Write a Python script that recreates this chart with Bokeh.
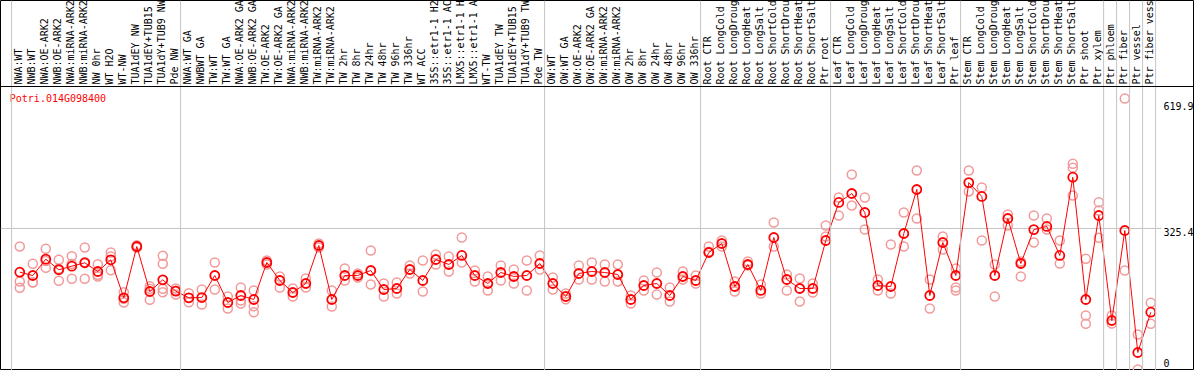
import math
from bokeh.plotting import figure
from bokeh.models import Range1d, Span
from bokeh.core.properties import value
from bokeh.embed import file_html
from bokeh.resources import INLINE

gene = "Potri.014G098400"

categories = [
    "NWA:WT", "NWB:WT", "NWA:OE-ARK2", "NWB:OE-ARK2", "NWA:miRNA-ARK2", "NWB:miRNA-ARK2",
    "NW 0hr", "WT H2O", "WT-NW", "TUA1dEY NW", "TUA1dEY+TUB15 NW", "TUA1dY+TUB9 NW", "Pde NW",
    "NWA:WT GA", "NWBWT GA", "TW:WT", "TW:WT GA", "NWA:OE-ARK2 GA", "NWB:OE-ARK2 GA",
    "TW:OE-ARK2", "TW:OE-ARK2 GA", "NWA:miRNA-ARK2 GA", "NWB:miRNA-ARK2 GA", "TW:miRNA-ARK2",
    "TW:miRNA-ARK2 GA", "TW 2hr", "TW 8hr", "TW 24hr", "TW 48hr", "TW 96hr", "TW 336hr",
    "WT ACC", "35S::etr1-1 H2O", "35S::etr1-1 ACC", "LMX5::etr1-1 H2O", "LMX5::etr1-1 ACC",
    "WT-TW", "TUA1dEY TW", "TUA1dEY+TUB15 TW", "TUA1dY+TUB9 TW", "Pde TW",
    "OW:WT", "OW:WT GA", "OW:OE-ARK2", "OW:OE-ARK2 GA", "OW:miRNA-ARK2", "OW:miRNA-ARK2 GA",
    "OW 2hr", "OW 8hr", "OW 24hr", "OW 48hr", "OW 96hr", "OW 336hr",
    "Root CTR", "Root LongCold", "Root LongDrought", "Root LongHeat", "Root LongSalt",
    "Root ShortCold", "Root ShortDrought", "Root ShortHeat", "Root ShortSalt", "Ptr root",
    "Leaf CTR", "Leaf LongCold", "Leaf LongDrought", "Leaf LongHeat", "Leaf LongSalt",
    "Leaf ShortCold", "Leaf ShortDrought", "Leaf ShortHeat", "Leaf ShortSalt", "Ptr leaf",
    "Stem CTR", "Stem LongCold", "Stem LongDrought", "Stem LongHeat", "Stem LongSalt",
    "Stem ShortCold", "Stem ShortDrought", "Stem ShortHeat", "Stem ShortSalt",
    "Ptr shoot", "Ptr xylem", "Ptr phloem", "Ptr fiber", "Ptr vessel", "Ptr fiber vessel",
]

means = [
    226.3, 218.8, 255.8, 231.8, 239.9, 247.6, 227.9, 254.4, 168.3, 284.5, 182.6, 209.1, 183.3,
    168.3, 168.9, 218.8, 157.7, 173.5, 164.5, 248.3, 207.5, 180.3, 200.7, 286.8, 164.5,
    218.8, 218.8, 230.2, 187.1, 189.4, 232.4, 207.5, 255.1, 243.8, 264.2, 218.8,
    200.7, 225.6, 216.6, 218.8, 246.0,
    200.7, 171.3, 223.4, 227.9, 225.6, 221.1, 164.5, 196.2, 200.7, 173.5, 216.6, 207.5,
    270.9, 291.3, 193.9, 243.8, 184.9, 304.9, 209.8, 189.4, 189.4, 298.1,
    384.3, 404.6, 361.6, 196.2, 193.9, 314.0, 413.7, 173.5, 293.6, 218.8,
    429.3, 397.9, 218.8, 348.0, 246.0, 322.8, 329.9, 264.2, 441.5,
    164.5, 354.8, 116.9, 320.8, 44.4, 135.7,
]

replicates = [
    [284.5, 205.3, 191.0], [245.4, 203.7, 203.0], [279.3, 236.3, 251.8], [254.4, 206.8, 234.0],
    [262.6, 211.4, 245.0], [282.3, 211.4, 249.0], [244.4, 220.4, 216.6], [271.0, 261.9, 230.9],
    [181.0, 157.7, 166.0], [283.0, 287.5, 282.0], [194.6, 163.8, 189.0],
    [263.5, 245.4, 188.7, 181.0], [189.4, 175.8, 184.0],
    [178.7, 158.4, 168.0], [187.1, 153.1], [248.3, 187.1], [171.3, 144.1],
    [191.7, 155.4, 162.2], [184.9, 135.3, 148.9], [252.8, 243.8], [216.6, 191.7],
    [189.4, 171.3], [212.0, 191.7], [291.3, 282.3], [184.9, 148.6],
    [234.7, 207.5], [223.4, 214.3], [275.5, 198.5], [200.7, 171.3], [203.0, 178.1],
    [241.5, 223.4], [252.8, 182.6], [266.4, 243.8], [261.9, 227.9], [304.9, 248.3],
    [230.2, 205.3], [216.6, 184.9], [241.5, 207.5], [232.4, 200.7], [252.8, 184.9],
    [264.2, 232.4],
    [214.3, 187.1], [178.1, 165.0], [241.5, 209.8], [248.3, 209.8], [243.8, 205.3],
    [243.8, 205.3], [173.5, 155.4], [207.5, 184.9], [225.6, 175.8], [191.7, 159.9],
    [227.9, 209.8], [218.8, 200.7],
    [284.5, 272.7], [298.1, 284.5], [205.3, 182.6], [250.6, 241.5], [198.5, 178.1],
    [338.9, 284.5], [221.1, 184.9], [212.0, 159.9], [200.7, 180.3], [307.2, 332.1],
    [395.6, 354.8], [447.6, 377.4], [395.6, 323.1], [209.8, 184.9], [289.1, 178.1],
    [361.6, 284.5], [456.7, 348.0], [209.8, 144.1], [307.2, 277.7], [234.7, 191.7, 184.9],
    [456.7, 409.2], [418.2, 298.1], [243.8, 171.3], [357.1, 332.1], [250.6, 216.6],
    [354.8, 293.6], [348.0, 322.8], [298.1, 246.0], [471.9, 462.8, 400.0],
    [256.7, 128.2, 109.4], [385.0, 366.1, 304.2], [128.2, 110.1], [619.9, 230.2],
    [85.2, 5.9], [157.0, 109.4],
]

y_ticks = [0, 325.4, 619.9]
group_ends = [-1, 12, 40, 52, 62, 72, 83, 84, 85, 86, 87]

# ---- layout (pixels) ----
W, H = 1194, 370
UNIT = 13.0          # px per category
X0 = -19.3 / UNIT    # x value at left frame edge
PXV = 0.4414         # px per expression unit
Y0 = 3.6             # value at bottom frame edge
x_end = X0 + W / UNIT
y_end = Y0 + H / PXV
HEADER = 647.0       # value where header band starts

FONT = value("DejaVu Sans Mono")

p = figure(width=W, height=H, x_range=Range1d(X0, x_end), y_range=Range1d(Y0, y_end),
           output_backend="svg", toolbar_location=None, min_border=0,
           x_axis_location=None, y_axis_location=None)
p.grid.visible = False
p.outline_line_color = "black"
p.outline_line_width = 1
p.background_fill_color = "white"
p.border_fill_color = "white"

# vertical separators
for k in group_ends:
    p.add_layout(Span(location=k + 0.37, dimension="height", line_color="#c4c4c4", line_width=1))

# header separator
p.add_layout(Span(location=HEADER, dimension="width", line_color="black", line_width=1))

# mid grid line
p.segment(x0=[X0], y0=[y_ticks[1]], x1=[87.82], y1=[y_ticks[1]], line_color="#c4c4c4", line_width=1)

idx = list(range(len(categories)))

# category labels
p.text(x=[i - 0.12 for i in idx], y=[HEADER] * len(idx), text=categories, angle=math.pi / 2,
       text_align="left", text_baseline="middle", y_offset=-2,
       text_font=FONT, text_font_size="10px", text_color="black")

# replicates
rx, ry = [], []
for i, reps in enumerate(replicates):
    for r in reps:
        rx.append(i)
        ry.append(r)
p.scatter(rx, ry, marker="circle", size=9, fill_color=None, line_color="#f29a9a", line_width=1.5)

# mean line and markers
p.line(idx, means, line_color="red", line_width=1)
p.scatter(idx, means, marker="circle", size=9, fill_color=None, line_color="red", line_width=1.8)

# title
p.text(x=[-0.77], y=[HEADER], text=[gene], text_align="left", text_baseline="top", y_offset=6,
       text_font=FONT, text_font_size="10px", text_color="red")

# right tick labels
lab_x = (1163 - 19.3) / UNIT
p.text(x=[lab_x], y=[y_ticks[2]], text=[str(y_ticks[2])], text_align="left", text_baseline="top",
       y_offset=4, text_font=FONT, text_font_size="10px", text_color="black")
p.text(x=[lab_x], y=[y_ticks[1]], text=[str(y_ticks[1])], text_align="left", text_baseline="top",
       y_offset=0, text_font=FONT, text_font_size="10px", text_color="black")
p.text(x=[lab_x], y=[Y0], text=[str(y_ticks[0])], text_align="left", text_baseline="bottom",
       y_offset=-4, text_font=FONT, text_font_size="10px", text_color="black")

open("out.html", "w").write(file_html(p, INLINE))
